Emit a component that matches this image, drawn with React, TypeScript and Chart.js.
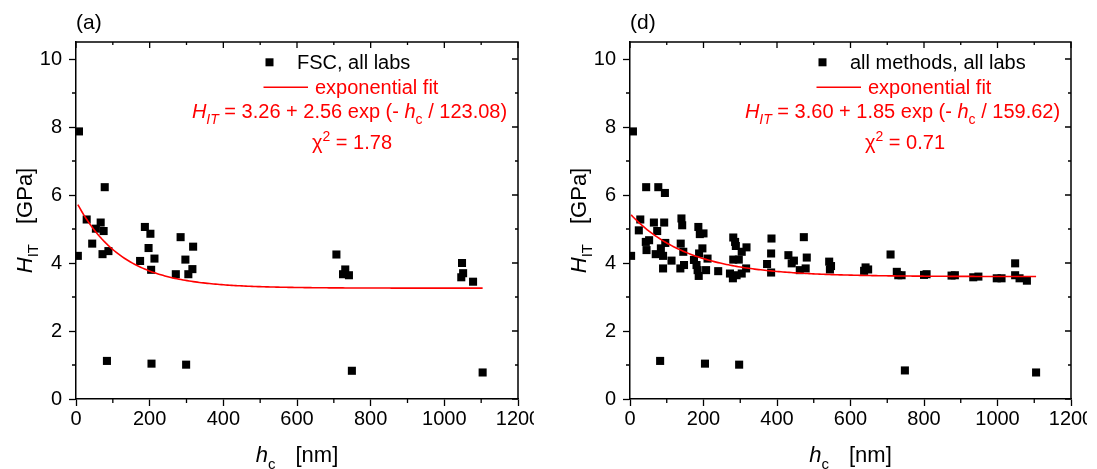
import React, { useEffect, useRef } from 'react';
import { Chart, registerables } from 'chart.js';

Chart.register(...registerables);

const FONT = "'Liberation Sans', Arial, Helvetica, sans-serif";

// ---------- Panel (a): FSC, all labs ----------
const hcFSC = [
  5, 8, 29, 44, 54, 67, 75, 72, 88, 78,
  84, 174, 187, 202, 197, 204, 213, 205, 271, 284,
  297, 305, 318, 316, 299, 707, 731, 725, 741, 749,
  1048, 1051, 1046, 1078, 1104,
];
const hitFSC = [
  4.21, 7.87, 5.28, 4.57, 5.01, 5.19, 4.94, 4.26, 4.35, 6.23,
  1.12, 4.06, 5.06, 4.86, 4.44, 3.8, 4.13, 1.04, 3.67, 4.76,
  4.1, 3.67, 4.48, 3.82, 1.01, 4.25, 3.81, 3.67, 3.64, 0.83,
  4.0, 3.7, 3.58, 3.45, 0.78,
];

// ---------- Panel (d): all methods, all labs ----------
const hcAll = [
  3, 8, 28, 24, 44, 43, 45, 52, 65, 74,
  70, 77, 95, 93, 84, 90, 96, 90, 82, 113,
  140, 142, 138, 145, 137, 147, 174, 186, 200, 190,
  188, 197, 181, 184, 187, 207, 211, 204, 240, 272,
  281, 286, 288, 281, 280, 290, 296, 304, 304, 317,
  316, 297, 373, 385, 384, 384, 431, 440, 446, 462,
  473, 481, 478, 542, 547, 544, 641, 648, 637, 709,
  726, 730, 739, 748, 807, 800, 875, 884, 934, 948,
  998, 1011, 1048, 1048, 1060, 1080, 1105,
];
const hitAll = [
  4.21, 7.87, 5.28, 4.96, 6.23, 4.62, 4.38, 4.67, 5.19, 4.94,
  4.26, 6.23, 6.06, 5.19, 4.43, 4.21, 4.59, 3.84, 1.12, 4.07,
  5.31, 5.11, 4.57, 4.33, 3.84, 3.94, 4.09, 5.06, 4.87, 4.85,
  4.28, 4.43, 3.94, 3.79, 3.62, 3.79, 4.13, 1.04, 3.76, 3.69,
  4.75, 4.62, 4.5, 4.1, 3.55, 3.64, 4.1, 4.33, 3.69, 4.46,
  3.84, 1.01, 3.97, 4.72, 4.28, 3.72, 4.23, 3.99, 4.07, 3.79,
  4.76, 4.16, 3.84, 4.04, 3.91, 3.81, 3.87, 3.81, 3.77, 4.25,
  3.74, 3.64, 3.64, 0.84, 3.67, 3.65, 3.63, 3.64, 3.58, 3.6,
  3.55, 3.55, 3.99, 3.64, 3.55, 3.48, 0.78,
];

// Exponential fit parameters, as printed in each legend: H = y0 + A exp(-hc / t)
const fitFSC = { y0: 3.26, A: 2.56, t: 123.08 };
const fitAll = { y0: 3.6, A: 1.85, t: 159.62 };
const chiFSC = '1.78';
const chiAll = '0.71';

// Axis ranges
const X_MIN = 0;
const X_MAX = 1200;
const X_STEP = 200;
const Y_MIN = 0;
const Y_MAX = 10.5;
const Y_STEP = 2;

type Seg = { t: string; it?: boolean; size: number; dy?: number; gap?: number };

const segFont = (s: Seg) => `${s.it ? 'italic ' : ''}${s.size}px ${FONT}`;

function richWidth(ctx: CanvasRenderingContext2D, segs: Seg[]) {
  let w = 0;
  for (const s of segs) {
    ctx.font = segFont(s);
    w += ctx.measureText(s.t).width + (s.gap || 0);
  }
  return w;
}

function drawRich(
  ctx: CanvasRenderingContext2D,
  segs: Seg[],
  x: number,
  y: number,
  align: 'left' | 'center',
  color: string
) {
  const w = richWidth(ctx, segs);
  let cx = align === 'center' ? x - w / 2 : x;
  ctx.fillStyle = color;
  ctx.textAlign = 'left';
  ctx.textBaseline = 'alphabetic';
  for (const s of segs) {
    ctx.font = segFont(s);
    ctx.fillText(s.t, cx, y + (s.dy || 0));
    cx += ctx.measureText(s.t).width + (s.gap || 0);
  }
}

type Spec = {
  tag: string;
  series: string;
  hc: number[];
  hit: number[];
  fit: { y0: number; A: number; t: number };
  chi: string;
  yAxisWidth: number;
  canvasWidth: number;
  left: number;
};

function decor(spec: Spec) {
  return {
    id: 'decor',
    afterDraw(chart: any) {
      const ctx: CanvasRenderingContext2D = chart.ctx;
      const a = chart.chartArea;
      const xs = chart.scales.x;
      const ys = chart.scales.y;
      ctx.save();
      // frame: top and right
      ctx.strokeStyle = '#000';
      ctx.lineWidth = 1.5;
      ctx.beginPath();
      ctx.moveTo(a.left, a.top);
      ctx.lineTo(a.right, a.top);
      ctx.lineTo(a.right, a.bottom);
      ctx.stroke();

      // ticks: minor outward on bottom/left, inward ticks on top/right
      ctx.lineWidth = 1.3;
      ctx.beginPath();
      const xt = xs.ticks.map((t: any) => t.value);
      for (let i = 0; i < xt.length; i++) {
        const px = xs.getPixelForValue(xt[i]);
        ctx.moveTo(px, a.top);
        ctx.lineTo(px, a.top + 6);
        if (i < xt.length - 1) {
          const m = xs.getPixelForValue((xt[i] + xt[i + 1]) / 2);
          ctx.moveTo(m, a.bottom);
          ctx.lineTo(m, a.bottom + 4);
          ctx.moveTo(m, a.top);
          ctx.lineTo(m, a.top + 3);
        }
      }
      const yt = ys.ticks.map((t: any) => t.value);
      for (let i = 0; i < yt.length; i++) {
        const py = ys.getPixelForValue(yt[i]);
        ctx.moveTo(a.right, py);
        ctx.lineTo(a.right - 6, py);
        if (i < yt.length - 1) {
          const m = ys.getPixelForValue((yt[i] + yt[i + 1]) / 2);
          ctx.moveTo(a.left, m);
          ctx.lineTo(a.left - 4, m);
          ctx.moveTo(a.right, m);
          ctx.lineTo(a.right - 3, m);
        }
      }
      ctx.stroke();

      // panel tag
      ctx.fillStyle = '#000';
      ctx.font = `21px ${FONT}`;
      ctx.textAlign = 'left';
      ctx.textBaseline = 'alphabetic';
      ctx.fillText(spec.tag, a.left, 29);

      // x title
      drawRich(
        ctx,
        [
          { t: 'h', it: true, size: 22 },
          { t: 'c', size: 15, dy: 7, gap: 20 },
          { t: '[nm]', size: 22 },
        ],
        (a.left + a.right) / 2,
        462,
        'center',
        '#000'
      );

      // y title (rotated)
      ctx.save();
      ctx.translate(a.left - 44, (a.top + a.bottom) / 2);
      ctx.rotate(-Math.PI / 2);
      drawRich(
        ctx,
        [
          { t: 'H', it: true, size: 22 },
          { t: 'IT', size: 15, dy: 6, gap: 20 },
          { t: '[GPa]', size: 22 },
        ],
        0,
        0,
        'center',
        '#000'
      );
      ctx.restore();

      // legend
      const R = a.right;
      ctx.fillStyle = '#000';
      ctx.fillRect(R - 248.5 - 4, 62.3 - 4, 8, 8);
      drawRich(ctx, [{ t: spec.series, size: 20 }], R - 221, 69.3, 'left', '#000');
      ctx.strokeStyle = '#ff0000';
      ctx.lineWidth = 1.6;
      ctx.beginPath();
      ctx.moveTo(R - 254.5, 87.3);
      ctx.lineTo(R - 210, 87.3);
      ctx.stroke();
      drawRich(ctx, [{ t: 'exponential fit', size: 20 }], R - 203, 94.3, 'left', '#ff0000');
      const f = spec.fit;
      drawRich(
        ctx,
        [
          { t: 'H', it: true, size: 20 },
          { t: 'IT', it: true, size: 14, dy: 6 },
          { t: ` = ${f.y0.toFixed(2)} + ${f.A.toFixed(2)} exp (- `, size: 20 },
          { t: 'h', it: true, size: 20 },
          { t: 'c', size: 14, dy: 6 },
          { t: ` / ${f.t.toFixed(2)})`, size: 20 },
        ],
        R - 168.5,
        118.3,
        'center',
        '#ff0000'
      );
      drawRich(
        ctx,
        [
          { t: 'χ', size: 20 },
          { t: '2', size: 14, dy: -8 },
          { t: ` = ${spec.chi}`, size: 20 },
        ],
        R - 166,
        149.3,
        'center',
        '#ff0000'
      );
      ctx.restore();
    },
  };
}

function buildConfig(spec: Spec): any {
  const pts = spec.hc.map((x, i) => ({ x, y: spec.hit[i] }));
  const lo = Math.min(...spec.hc);
  const hi = Math.max(...spec.hc);
  const fitPts: { x: number; y: number }[] = [];
  const n = 200;
  for (let k = 0; k <= n; k++) {
    const x = lo + ((hi - lo) * k) / n;
    fitPts.push({ x, y: spec.fit.y0 + spec.fit.A * Math.exp(-x / spec.fit.t) });
  }
  const tickFont = { family: FONT, size: 20 };
  return {
    type: 'scatter',
    data: {
      datasets: [
        {
          label: spec.series,
          data: pts,
          pointStyle: 'rect',
          pointRadius: 5.7,
          backgroundColor: '#000',
          borderColor: '#000',
          borderWidth: 0,
          order: 1,
        },
        {
          label: 'exponential fit',
          type: 'line',
          data: fitPts,
          borderColor: '#ff0000',
          borderWidth: 1.6,
          pointRadius: 0,
          showLine: true,
          fill: false,
          tension: 0,
          order: 0,
        },
      ],
    },
    options: {
      responsive: false,
      animation: false,
      devicePixelRatio: 1,
      events: [],
      layout: { padding: { top: 42, right: 16, left: 0, bottom: 0 } },
      plugins: { legend: { display: false }, tooltip: { enabled: false } },
      scales: {
        x: {
          type: 'linear',
          min: X_MIN,
          max: X_MAX,
          ticks: {
            stepSize: X_STEP,
            color: '#000',
            font: tickFont,
            padding: 1,
            maxRotation: 0,
            autoSkip: false,
            callback: (v: any) => String(v),
          },
          grid: { drawOnChartArea: false, tickLength: 7, tickColor: '#000', tickWidth: 1.3 },
          border: { display: true, color: '#000', width: 1.5 },
          afterFit: (s: any) => {
            s.height = 70;
            s.paddingLeft = 0;
            s.paddingRight = 0;
          },
        },
        y: {
          type: 'linear',
          min: Y_MIN,
          max: Y_MAX,
          ticks: {
            stepSize: Y_STEP,
            includeBounds: false,
            color: '#000',
            font: tickFont,
            padding: 7,
            callback: (v: any) => String(v),
          },
          grid: { drawOnChartArea: false, tickLength: 7, tickColor: '#000', tickWidth: 1.3 },
          border: { display: true, color: '#000', width: 1.5 },
          afterFit: (s: any) => {
            s.width = spec.yAxisWidth;
            s.paddingTop = 0;
            s.paddingBottom = 0;
          },
        },
      },
    },
    plugins: [decor(spec)],
  };
}

const panels: Spec[] = [
  {
    tag: '(a)',
    series: 'FSC, all labs',
    hc: hcFSC,
    hit: hitFSC,
    fit: fitFSC,
    chi: chiFSC,
    yAxisWidth: 76,
    canvasWidth: 534,
    left: 0,
  },
  {
    tag: '(d)',
    series: 'all methods, all labs',
    hc: hcAll,
    hit: hitAll,
    fit: fitAll,
    chi: chiAll,
    yAxisWidth: 82,
    canvasWidth: 539,
    left: 548,
  },
];

function Panel({ spec }: { spec: Spec }) {
  const ref = useRef<HTMLCanvasElement>(null);
  useEffect(() => {
    const chart = new Chart(ref.current as HTMLCanvasElement, buildConfig(spec));
    return () => chart.destroy();
  }, [spec]);
  return (
    <canvas
      ref={ref}
      width={spec.canvasWidth}
      height={469}
      style={{ position: 'absolute', left: spec.left, top: 0, width: spec.canvasWidth, height: 469 }}
    />
  );
}

export default function App() {
  return (
    <div
      style={{
        position: 'absolute',
        left: 0,
        top: 0,
        width: 1097,
        height: 469,
        background: '#fff',
        overflow: 'hidden',
      }}
    >
      {panels.map((p) => (
        <Panel key={p.tag} spec={p} />
      ))}
    </div>
  );
}
